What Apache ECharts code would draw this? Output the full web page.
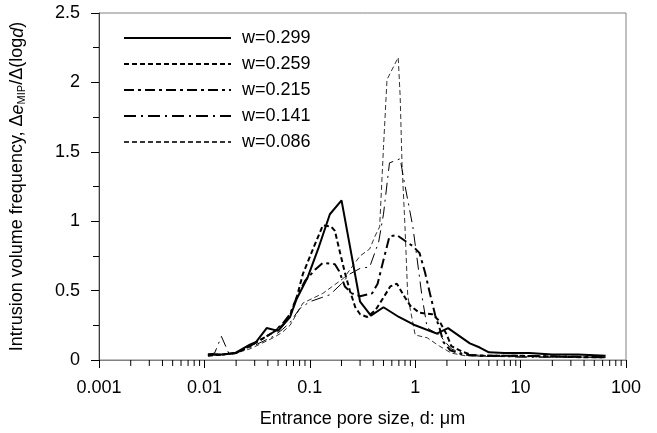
<!DOCTYPE html>
<html>
<head>
<meta charset="utf-8">
<script src="https://cdn.jsdelivr.net/npm/echarts@6/dist/echarts.min.js"></script>
<style>
html,body{margin:0;padding:0;background:#fff;}
#chart{width:657px;height:433px;}
</style>
</head>
<body>
<div id="chart"></div>
<script>
// ---- data (x: pore size in µm, y: frequency) ----
const seriesNames = ['w=0.299', 'w=0.259', 'w=0.215', 'w=0.141', 'w=0.086'];

const w299 = [[0.0108,0.04],[0.015,0.04],[0.0195,0.05],[0.027,0.11],[0.031,0.13],[0.039,0.23],[0.05,0.21],[0.065,0.31],[0.075,0.44],[0.096,0.6],[0.12,0.8],[0.155,1.05],[0.2,1.15],[0.3,0.42],[0.38,0.32],[0.5,0.38],[0.7,0.31],[1.0,0.25],[1.6,0.19],[2.05,0.23],[3.3,0.12],[4.1,0.09],[5,0.055],[7,0.05],[12,0.05],[20,0.04],[35,0.04],[64,0.03]];

const w259 = [[0.0108,0.03],[0.015,0.04],[0.02,0.05],[0.027,0.1],[0.035,0.15],[0.045,0.2],[0.055,0.25],[0.065,0.32],[0.075,0.45],[0.086,0.62],[0.11,0.82],[0.133,0.97],[0.16,0.96],[0.173,0.93],[0.19,0.8],[0.215,0.63],[0.24,0.5],[0.27,0.38],[0.3,0.33],[0.35,0.31],[0.42,0.36],[0.5,0.45],[0.58,0.53],[0.67,0.55],[0.8,0.45],[0.9,0.39],[1.1,0.34],[1.45,0.33],[1.7,0.28],[2.0,0.18],[2.2,0.1],[2.8,0.06],[3.5,0.035],[5,0.03],[10,0.03],[20,0.025],[40,0.02],[64,0.02]];

const w215 = [[0.0108,0.04],[0.015,0.04],[0.02,0.05],[0.027,0.1],[0.035,0.15],[0.045,0.2],[0.055,0.26],[0.065,0.33],[0.075,0.45],[0.09,0.57],[0.112,0.65],[0.133,0.70],[0.173,0.69],[0.19,0.64],[0.215,0.53],[0.25,0.48],[0.3,0.46],[0.39,0.48],[0.44,0.55],[0.5,0.72],[0.57,0.89],[0.67,0.9],[0.83,0.85],[0.95,0.82],[1.1,0.77],[1.24,0.63],[1.4,0.46],[1.55,0.32],[1.7,0.23],[1.85,0.13],[2.15,0.07],[2.8,0.04],[4,0.03],[10,0.03],[30,0.025],[64,0.02]];

const w141 = [[0.0108,0.04],[0.0125,0.05],[0.0145,0.17],[0.017,0.05],[0.02,0.05],[0.027,0.09],[0.035,0.13],[0.045,0.17],[0.055,0.22],[0.065,0.27],[0.08,0.37],[0.1,0.42],[0.13,0.45],[0.155,0.47],[0.2,0.55],[0.24,0.62],[0.3,0.66],[0.37,0.67],[0.45,0.85],[0.5,1.05],[0.57,1.42],[0.72,1.45],[0.78,1.3],[0.95,0.96],[1.16,0.46],[1.3,0.23],[1.7,0.18],[2.2,0.08],[3,0.04],[5,0.03],[10,0.02],[64,0.02]];

const w086 = [[0.0108,0.03],[0.015,0.04],[0.02,0.05],[0.027,0.08],[0.035,0.12],[0.045,0.16],[0.055,0.2],[0.065,0.25],[0.086,0.41],[0.133,0.48],[0.21,0.59],[0.3,0.75],[0.37,0.8],[0.42,0.9],[0.46,0.96],[0.5,1.53],[0.54,2.02],[0.69,2.18],[0.72,1.9],[0.75,1.41],[0.8,0.96],[0.85,0.46],[1.0,0.18],[1.3,0.16],[1.7,0.1],[2.2,0.05],[3,0.03],[5,0.025],[64,0.02]];

const xTickLabels = ['0.001', '0.01', '0.1', '1', '10', '100'];
const yTickLabels = ['0', '0.5', '1', '1.5', '2', '2.5'];
const xMinorTicks = [];
[0.001, 0.01, 0.1, 1, 10].forEach(function (d) {
  for (let k = 2; k <= 9; k++) xMinorTicks.push([d * k, 0]);
});

const FONT = "'Liberation Sans', Arial, sans-serif";
const FS = 18;

const chart = echarts.init(document.getElementById('chart'), null, {renderer: 'canvas'});

const styles = [
  {width: 2, type: 'solid', color: '#000'},
  {width: 2, type: [5, 3], color: '#000'},
  {width: 2, type: [10, 4, 3, 4], color: '#000'},
  {width: 1, type: [12, 5, 2, 5], color: '#000'},
  {width: 1, type: [5, 3], color: '#333'}
];
const datas = [w299, w259, w215, w141, w086];

const series = datas.map(function (d, i) {
  return {
    name: seriesNames[i],
    type: 'line',
    data: d,
    symbol: 'none',
    showSymbol: false,
    smooth: false,
    animation: false,
    lineStyle: {width: styles[i].width, type: styles[i].type, color: styles[i].color},
    itemStyle: {color: styles[i].color},
    z: 5 - i
  };
});

series.push({
  type: 'custom',
  name: 'minorTicks',
  data: xMinorTicks,
  silent: true,
  animation: false,
  clip: false,
  renderItem: function (params, api) {
    const p = api.coord([api.value(0), 0]);
    return {
      type: 'line',
      shape: {x1: p[0], y1: p[1], x2: p[0], y2: p[1] + 6},
      style: {stroke: '#000', lineWidth: 1}
    };
  }
});

chart.setOption({
  backgroundColor: '#fff',
  animation: false,
  textStyle: {fontFamily: FONT},
  grid: {left: 99, top: 13, width: 527, height: 352, show: true, borderColor: '#808080', borderWidth: 1, backgroundColor: 'transparent'},
  legend: {
    data: seriesNames,
    orient: 'vertical',
    left: 123,
    top: 28,
    padding: 0,
    itemWidth: 107,
    itemHeight: 14,
    itemGap: 6,
    itemStyle: {opacity: 0},
    textStyle: {fontFamily: FONT, fontSize: FS, color: '#000', lineHeight: 20, padding: [0, 0, 0, 6]},
    inactiveColor: '#000'
  },
  xAxis: {
    type: 'log',
    logBase: 10,
    min: 0.001,
    max: 100,
    name: 'Entrance pore size, d: \u03bcm',
    nameLocation: 'middle',
    nameGap: 50,
    nameTextStyle: {fontFamily: FONT, fontSize: FS, color: '#000'},
    axisLine: {show: true, onZero: false, lineStyle: {color: '#808080', width: 1}},
    axisTick: {show: true, inside: false, length: 8, lineStyle: {color: '#000'}},
    minorTick: {show: false},
    splitLine: {show: false},
    axisLabel: {
      fontFamily: FONT, fontSize: FS, color: '#000', margin: 19,
      formatter: function (v) {
        const idx = Math.round(Math.log10(v)) + 3;
        return xTickLabels[idx] !== undefined ? xTickLabels[idx] : '';
      }
    }
  },
  yAxis: {
    type: 'value',
    min: 0,
    max: 2.5,
    interval: 0.5,
    name: '{n|Intrusion volume frequency, \u0394}{i|e}{s|MIP}{n|/\u0394(log}{i|d}{n|)}',
    nameLocation: 'middle',
    nameGap: 72,
    nameTextStyle: {
      fontFamily: FONT, fontSize: FS, color: '#000',
      rich: {
        n: {fontFamily: FONT, fontSize: FS, color: '#000'},
        i: {fontFamily: FONT, fontSize: FS, color: '#000', fontStyle: 'italic'},
        s: {fontFamily: FONT, fontSize: 11, color: '#000', verticalAlign: 'bottom', padding: [8, 0, 0, 0]}
      }
    },
    axisLine: {show: true, lineStyle: {color: '#404040', width: 1}},
    axisTick: {show: true, inside: false, length: 8, lineStyle: {color: '#000'}},
    minorTick: {show: true, splitNumber: 2, length: 6, lineStyle: {color: '#000'}},
    splitLine: {show: false},
    minorSplitLine: {show: false},
    axisLabel: {
      fontFamily: FONT, fontSize: FS, color: '#000', margin: 19,
      formatter: function (v) {
        const idx = Math.round(v / 0.5);
        return yTickLabels[idx];
      }
    }
  },
  series: series
});
</script>
</body>
</html>
